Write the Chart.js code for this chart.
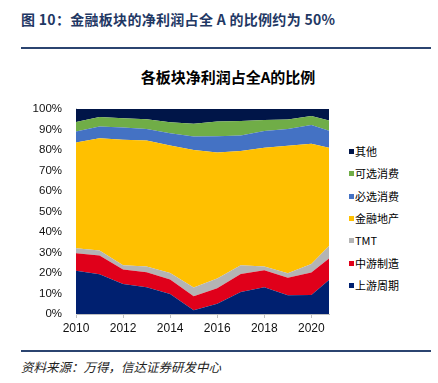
<!DOCTYPE html>
<html>
<head>
<meta charset="utf-8">
<script src="https://cdn.jsdelivr.net/npm/chart.js@4.4.1/dist/chart.umd.min.js"></script>
<style>
  html, body { margin: 0; padding: 0; background: #fff; }
  body { width: 438px; height: 383px; position: relative; overflow: hidden; font-family: "Noto Sans CJK SC", "Liberation Sans", sans-serif; }
  #heading { position: absolute; left: 21px; top: 9px; font-size: 14px; font-weight: bold; color: #1F3864; white-space: nowrap; letter-spacing: 0.3px; }
  .rule { position: absolute; left: 21px; width: 410px; height: 2px; background: #2B4470; }
  #ctitle { position: absolute; left: 0; width: 456px; top: 66px; text-align: center; font-size: 15px; font-weight: bold; color: #000; }
  #wrap { position: absolute; left: 0; top: 96px; width: 345px; height: 250px; }
  #legend { position: absolute; left: 0; top: 0; }
  .li { position: absolute; left: 349px; font-size: 11px; color: #000; white-space: nowrap; line-height: 14px; }
  .sw { position: absolute; left: 0; top: 5px; width: 5px; height: 5px; }
  .lt { position: absolute; left: 6px; top: 0; }
  #source { position: absolute; left: 21px; top: 357px; font-size: 12.5px; font-style: italic; color: #222; white-space: nowrap; }
</style>
</head>
<body>
<div id="heading">图 10：金融板块的净利润占全 A 的比例约为 50%</div>
<div class="rule" style="top:47px"></div>
<div id="ctitle">各板块净利润占全A的比例</div>
<div id="wrap"><canvas id="c" width="345" height="250"></canvas></div>
<div id="legend"></div>
<div class="rule" style="top:350px"></div>
<div id="source">资料来源：万得，信达证券研发中心</div>
<script>
// x positions (years; last point is a partial year)
const periods = [2010, 2011, 2012, 2013, 2014, 2015, 2016, 2017, 2018, 2019, 2020, 2020.75];
const xTickYears = [2010, 2012, 2014, 2016, 2018, 2020];
const yTickValues = [0, 10, 20, 30, 40, 50, 60, 70, 80, 90, 100];

// series (% share of total net profit), bottom to top
const upstream   = [21.1, 19.4, 14.6, 13.1, 9.8, 1.8, 5.0, 10.7, 13.1, 9.2, 9.3, 16.6];
const midstream  = [8.5, 9.1, 7.1, 7.3, 7.0, 6.8, 7.5, 8.8, 8.2, 8.5, 10.9, 10.4];
const tmt        = [2.4, 2.4, 2.1, 2.8, 3.2, 4.3, 4.8, 4.3, 1.8, 2.2, 4.2, 6.1];
const financial  = [51.6, 54.8, 61.1, 61.4, 62.1, 67.1, 61.4, 55.7, 58.0, 62.1, 58.6, 47.9];
const staples    = [5.4, 5.7, 6.0, 5.6, 6.0, 6.6, 8.0, 7.5, 8.1, 8.2, 9.1, 8.4];
const discretion = [4.6, 4.6, 4.5, 4.7, 5.4, 6.2, 7.1, 7.1, 5.4, 4.6, 4.4, 4.9];
const others     = [6.4, 4.0, 4.6, 5.1, 6.5, 7.2, 6.2, 5.9, 5.4, 5.2, 3.5, 5.7];

const seriesNames  = ['上游周期', '中游制造', 'TMT', '金融地产', '必选消费', '可选消费', '其他'];
const seriesValues = [upstream, midstream, tmt, financial, staples, discretion, others];
const seriesColors = ['#002070', '#E0001A', '#B4B4B4', '#FFC000', '#4472C4', '#70AD47', '#001548'];

const datasets = seriesNames.map((name, i) => ({
  label: name,
  data: seriesValues[i].map((v, j) => ({ x: periods[j], y: v })),
  backgroundColor: seriesColors[i],
  borderColor: seriesColors[i],
  borderWidth: 0,
  pointRadius: 0,
  tension: 0,
  fill: i === 0 ? 'origin' : '-1'
}));

new Chart(document.getElementById('c'), {
  type: 'line',
  data: { datasets },
  options: {
    responsive: false,
    animation: false,
    layout: { padding: { top: 12, right: 16, left: 0, bottom: 0 } },
    plugins: { legend: { display: false }, tooltip: { enabled: false }, title: { display: false } },
    scales: {
      x: {
        type: 'linear',
        min: periods[0],
        max: periods[periods.length - 1],
        afterBuildTicks: s => { s.ticks = xTickYears.map(v => ({ value: v })); },
        afterFit: s => { s.height = 32; },
        grid: { display: true, drawOnChartArea: false, drawTicks: true, tickLength: 4, color: '#BFBFBF' },
        border: { display: true, color: '#BFBFBF' },
        ticks: { padding: 3, color: '#111', font: { family: 'Liberation Sans', size: 12 }, callback: v => String(v), maxRotation: 0 }
      },
      y: {
        stacked: true,
        min: 0,
        max: 100,
        afterBuildTicks: s => { s.ticks = yTickValues.map(v => ({ value: v })); },
        afterFit: s => { s.width = 76; },
        grid: { display: false },
        border: { display: true, color: '#D9D9D9' },
        ticks: { padding: 6, color: '#111', font: { family: 'Liberation Sans', size: 11.5 }, callback: v => v + '%' }
      }
    }
  }
});

// legend (top item = last series)
const legend = document.getElementById('legend');
const legendTop = 144, legendStep = 22.3;
seriesNames.slice().reverse().forEach((name, k) => {
  const idx = seriesNames.length - 1 - k;
  const li = document.createElement('div');
  li.className = 'li';
  li.style.top = (legendTop + k * legendStep) + 'px';
  li.innerHTML = '<span class="sw" style="background:' + seriesColors[idx] + '"></span><span class="lt">' + name + '</span>';
  legend.appendChild(li);
});
</script>
</body>
</html>
